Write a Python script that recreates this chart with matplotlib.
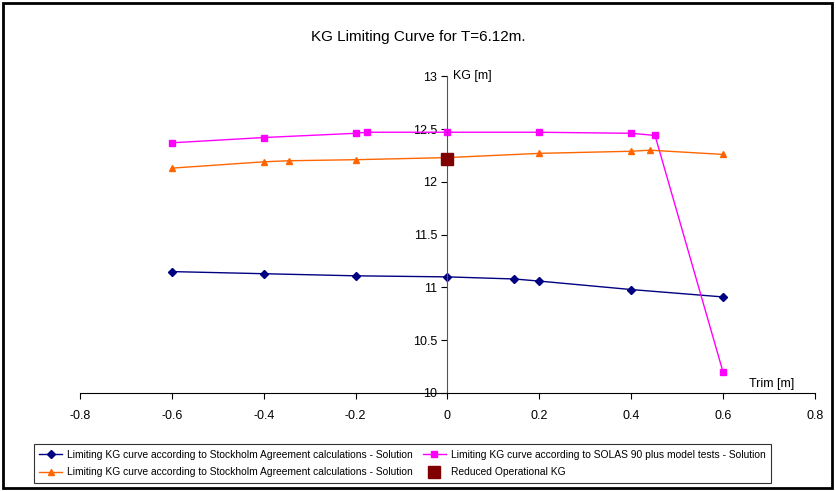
import matplotlib
matplotlib.use("Agg")
import matplotlib.pyplot as plt
from matplotlib.patches import Rectangle

plt.rcParams['font.family'] = ['Liberation Sans', 'DejaVu Sans']

# data
solas_x = [-0.6, -0.4, -0.2, -0.176, 0.0, 0.2, 0.4, 0.452, 0.6]
solas_kg = [12.37, 12.42, 12.46, 12.47, 12.47, 12.47, 12.46, 12.44, 10.20]

stock2_x = [-0.6, -0.4, -0.346, -0.2, 0.0, 0.2, 0.4, 0.441, 0.6]
stock2_kg = [12.13, 12.19, 12.20, 12.21, 12.23, 12.27, 12.29, 12.30, 12.26]

stock1_x = [-0.6, -0.4, -0.2, 0.0, 0.146, 0.2, 0.4, 0.6]
stock1_kg = [11.15, 11.13, 11.11, 11.10, 11.08, 11.06, 10.98, 10.91]

reduced_x = [0.0]
reduced_kg = [12.22]

fig = plt.figure(figsize=(8.36, 4.91), dpi=100)
fig.patches.append(Rectangle((0.004, 0.006), 0.991, 0.988, transform=fig.transFigure,
                             fill=False, edgecolor='black', linewidth=2))

ax = fig.add_axes([0.0957, 0.1996, 0.879, 0.645])

l1, = ax.plot(stock1_x, stock1_kg, color='#000080', marker='D', markersize=4, linewidth=1,
              label='Limiting KG curve according to Stockholm Agreement calculations - Solution')
l2, = ax.plot(solas_x, solas_kg, color='#FF00FF', marker='s', markersize=5, linewidth=1,
              label='Limiting KG curve according to SOLAS 90 plus model tests - Solution')
l3, = ax.plot(stock2_x, stock2_kg, color='#FF6600', marker='^', markersize=5, linewidth=1,
              label='Limiting KG curve according to Stockholm Agreement calculations - Solution')
l4, = ax.plot(reduced_x, reduced_kg, color='#800000', marker='s', markersize=8, linestyle='none',
              label='Reduced Operational KG', zorder=5)

ax.set_xlim(-0.8, 0.8)
ax.set_ylim(10, 13)
ax.spines['left'].set_position(('data', 0))
ax.spines['bottom'].set_position(('data', 10))
ax.spines['right'].set_visible(False)
ax.spines['top'].set_visible(False)
ax.spines['left'].set_color('#555555')
ax.set_xticks([-0.8, -0.6, -0.4, -0.2, 0, 0.2, 0.4, 0.6, 0.8])
ax.set_xticklabels(['-0.8', '-0.6', '-0.4', '-0.2', '0', '0.2', '0.4', '0.6', '0.8'])
ax.set_yticks([10, 10.5, 11, 11.5, 12, 12.5, 13])
ax.set_yticklabels(['10', '10.5', '11', '11.5', '12', '12.5', '13'])
ax.tick_params(axis='both', labelsize=9, length=4, direction='out')
ax.tick_params(axis='x', pad=8)

ax.text(0.012, 13, 'KG [m]', fontsize=9, va='center', ha='left')
ax.text(0.705, 10.03, 'Trim [m]', fontsize=9, va='bottom', ha='center')

fig.text(0.5, 0.925, 'KG Limiting Curve for T=6.12m.', fontsize=11, ha='center', va='center')

# legend fills column by column
leg = fig.legend(handles=[l1, l3, l2, l4], loc='lower left', bbox_to_anchor=(0.034, 0.006),
                 ncol=2, fontsize=7.4, frameon=True, fancybox=False, edgecolor='black',
                 handlelength=2.2, handletextpad=0.5, columnspacing=1.0, borderpad=0.55,
                 labelspacing=0.75)
leg.get_frame().set_linewidth(0.8)

fig.savefig('out.png', dpi=100)
